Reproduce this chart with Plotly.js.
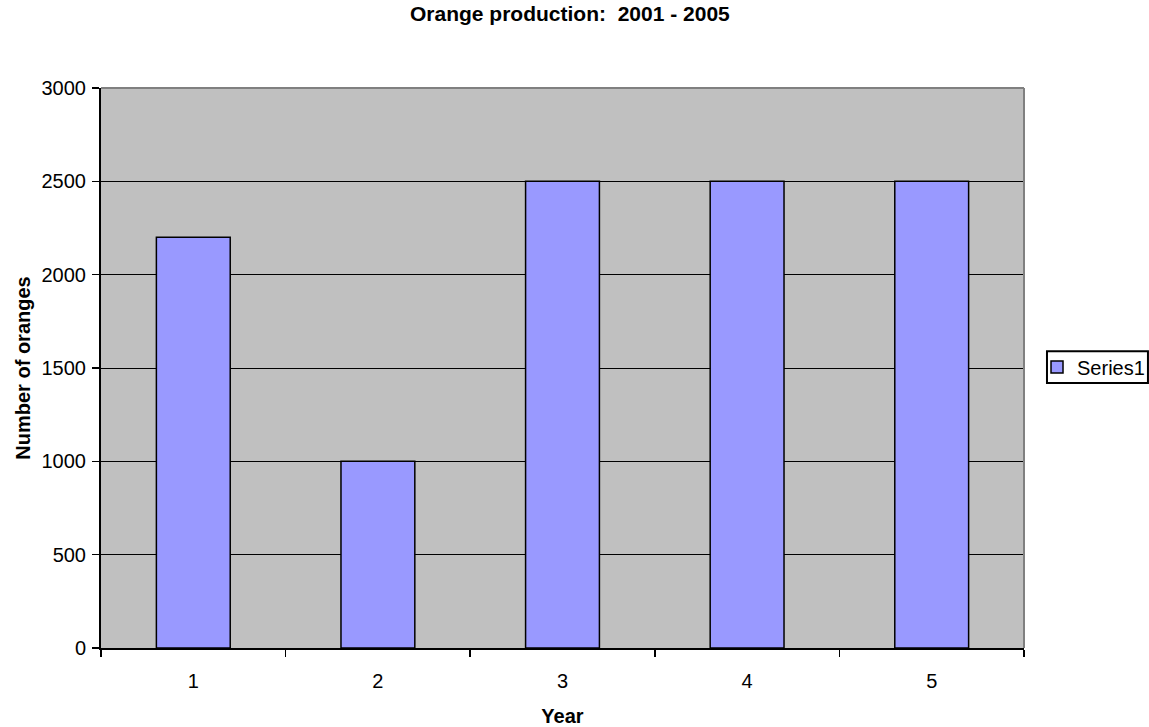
<!DOCTYPE html>
<html>
<head>
<meta charset="utf-8">
<script src="https://cdn.plot.ly/plotly-3.0.1.min.js"></script>
<style>html,body{margin:0;padding:0;background:#fff;}#chart{width:1149px;height:727px;}</style>
</head>
<body>
<div id="chart"></div>
<script>
const years = ['1', '2', '3', '4', '5'];
const oranges = [2200, 1000, 2500, 2500, 2500];
const seriesName = 'Series1';
const chartTitle = 'Orange production:  2001 - 2005';
const xTitle = 'Year';
const yTitle = 'Number of oranges';

const font = 'Liberation Sans, Arial, sans-serif';

const trace = {
  type: 'bar',
  x: years,
  y: oranges,
  name: seriesName,
  showlegend: true,
  marker: {color: '#9999FF', line: {color: '#000000', width: 1.5}}
};

const layout = {
  width: 1149,
  height: 727,
  margin: {l: 101, r: 125, t: 88, b: 79, autoexpand: false},
  paper_bgcolor: '#FFFFFF',
  plot_bgcolor: '#C0C0C0',
  font: {family: font, size: 20, color: '#000000'},
  title: {text: '<b>' + chartTitle + '</b>', x: 0.508, xref: 'paper', xanchor: 'center', y: 0.991, yref: 'container', yanchor: 'top', font: {family: font, size: 21, color: '#000'}},
  bargap: 0.6,
  showlegend: true,
  legend: {x: 1.0141, xanchor: 'left', y: 0.502, yanchor: 'middle', borderwidth: 0, bgcolor: 'rgba(0,0,0,0)', font: {family: font, size: 20}},
  xaxis: {
    type: 'category',
    tickson: 'boundaries',
    ticks: 'outside', ticklen: 7, tickwidth: 1.5, tickcolor: '#000',
    showline: true, linecolor: '#000', linewidth: 2,
    showgrid: false, zeroline: false,
    ticklabelstandoff: 14,
    tickfont: {family: font, size: 20},
    title: {text: '<b>' + xTitle + '</b>', font: {family: font, size: 20}, standoff: 22}
  },
  yaxis: {
    range: [0, 3000], dtick: 500, tick0: 0,
    ticks: 'outside', ticklen: 7, tickwidth: 1.5, tickcolor: '#000',
    showline: true, linecolor: '#000', linewidth: 2,
    showgrid: true, gridcolor: '#000', gridwidth: 1,
    zeroline: false,
    ticklabelstandoff: 2,
    tickfont: {family: font, size: 20},
    title: {text: '<b>' + yTitle + '</b>', font: {family: font, size: 20}, standoff: 6}
  },
  shapes: [
    {type: 'line', xref: 'paper', yref: 'paper', x0: 0, x1: 1, y0: 1, y1: 1, line: {color: '#808080', width: 2}, layer: 'above'},
    {type: 'line', xref: 'paper', yref: 'paper', x0: 1, x1: 1, y0: 0, y1: 1, line: {color: '#808080', width: 2}, layer: 'above'},
    {type: 'rect', xref: 'paper', yref: 'paper', x0: 1.0249, x1: 1.1343, y0: 0.473, y1: 0.530, line: {color: '#000', width: 2}, fillcolor: 'rgba(0,0,0,0)', layer: 'above'}
  ]
};

Plotly.newPlot('chart', [trace], layout, {displayModeBar: false, staticPlot: true});
</script>
</body>
</html>
